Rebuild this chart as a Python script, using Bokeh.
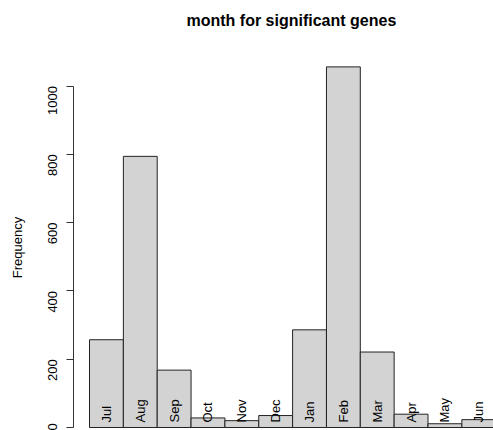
import math
from bokeh.plotting import figure
from bokeh.models import Range1d, FixedTicker, ColumnDataSource, Title
from bokeh.core.properties import value
from bokeh.embed import file_html
from bokeh.resources import INLINE

# Month of collection for the significant genes (counts per month)
months = ["Jul", "Aug", "Sep", "Oct", "Nov", "Dec",
          "Jan", "Feb", "Mar", "Apr", "May", "Jun"]
counts = [257, 794, 168, 28, 20, 35, 286, 1056, 221, 39, 11, 23]
y_ticks = [0, 200, 400, 600, 800, 1000]

FONT = "Liberation Sans"

idx = list(range(len(months)))
src = ColumnDataSource(dict(
    left=idx,
    right=[i + 1 for i in idx],
    mid=[i + 0.5 for i in idx],
    top=counts,
    bottom=[0] * len(idx),
    month=months,
))

p = figure(
    width=493, height=430,
    output_backend="svg", toolbar_location=None,
    x_range=Range1d(-0.473, 11.935),
    y_range=Range1d(-8.8, 1063.0),
    min_border_left=73, min_border_right=0,
    min_border_top=64, min_border_bottom=0,
    x_axis_location=None,
)
p.title = None
p.outline_line_color = None
p.grid.visible = False
p.background_fill_color = "white"
p.border_fill_color = "white"

# blank strip between the frame and the main title
p.add_layout(Title(text=" ", text_font_size="1px", standoff=31), "above")
p.add_layout(Title(text="month for significant genes", align="left", offset=113,
                   vertical_align="top", standoff=0,
                   text_font=FONT, text_font_size="16px",
                   text_font_style="bold", text_color="black"), "above")

# histogram bars
p.quad(left="left", right="right", bottom="bottom", top="top", source=src,
       fill_color="#D3D3D3", line_color="#222222", line_width=1)

# month names written upright inside each bar
p.text(x="mid", y="bottom", text="month", source=src,
       angle=math.pi / 2, text_align="left", text_baseline="middle",
       y_offset=-5, text_font=value(FONT), text_font_size="13px",
       text_color="black")

# y axis, drawn only over 0..1000 as in base R graphics
ax = p.yaxis[0]
ax.bounds = (0, 1000)
ax.ticker = FixedTicker(ticks=y_ticks)
ax.minor_tick_line_color = None
ax.major_tick_in = 0
ax.major_tick_out = 7
ax.axis_line_color = "#333333"
ax.major_tick_line_color = "#333333"
ax.major_label_orientation = math.pi / 2
ax.major_label_standoff = 14
ax.major_label_text_font = FONT
ax.major_label_text_font_size = "13px"
ax.major_label_text_color = "black"
ax.axis_label = "Frequency"
ax.axis_label_text_font = FONT
ax.axis_label_text_font_size = "13px"
ax.axis_label_text_font_style = "normal"
ax.axis_label_text_color = "black"
ax.axis_label_standoff = 16

open("out.html", "w").write(file_html(p, INLINE))
